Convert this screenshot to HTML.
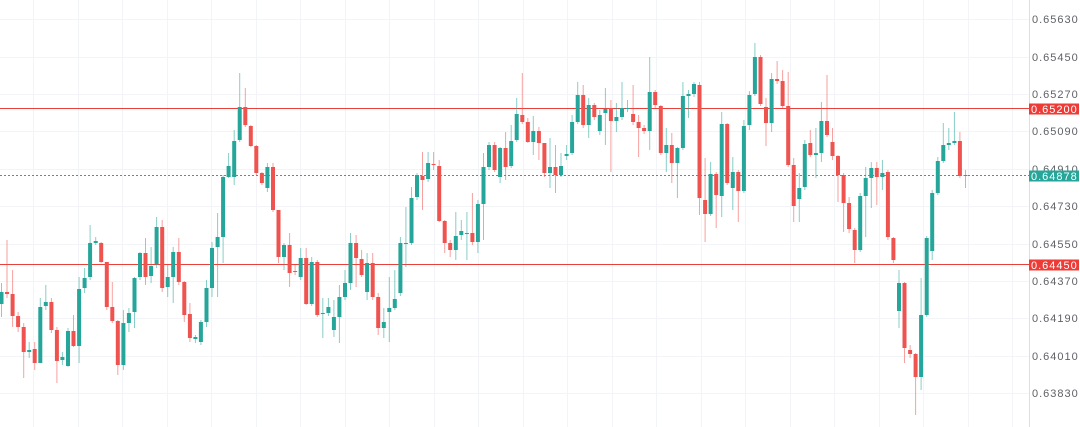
<!DOCTYPE html>
<html><head><meta charset="utf-8"><style>
html,body{margin:0;padding:0;background:#fff;}
svg{display:block;}
text{font-family:"Liberation Sans",sans-serif;font-size:11px;letter-spacing:1px;}
</style></head><body>
<svg width="1080" height="427" viewBox="0 0 1080 427" xmlns="http://www.w3.org/2000/svg">
<rect width="1080" height="427" fill="#fff"/>
<g stroke="#f3f4f7" stroke-width="1">
<path d="M0 19.5H1029M0 57.5H1029M0 94.5H1029M0 131.5H1029M0 169.5H1029M0 206.5H1029M0 244.5H1029M0 281.5H1029M0 318.5H1029M0 356.5H1029M0 393.5H1029"/>
<path d="M33.5 0V427M78.5 0V427M122.5 0V427M167.5 0V427M211.5 0V427M256.5 0V427M300.5 0V427M345.5 0V427M389.5 0V427M434.5 0V427M478.5 0V427M523.5 0V427M567.5 0V427M612.5 0V427M656.5 0V427M701.5 0V427M745.5 0V427M790.5 0V427M834.5 0V427M879.5 0V427M923.5 0V427M968.5 0V427M1012.5 0V427"/>
</g>
<line x1="1029.5" y1="0" x2="1029.5" y2="427" stroke="#dcdee3" stroke-width="1"/>
<line x1="0" y1="108.5" x2="1029" y2="108.5" stroke="#e8403b" stroke-width="1"/>
<line x1="0" y1="264.5" x2="1029" y2="264.5" stroke="#e8403b" stroke-width="1"/>
<line x1="0" y1="175.5" x2="1029" y2="175.5" stroke="#26a69a" stroke-width="1" stroke-dasharray="2 2"/>
<!-- wicks -->
<path fill="none" stroke="#26a69a" stroke-opacity="0.55" stroke-width="1" d="M1.5 283V317M29.2 342V358M40.3 298V363M45.8 285V310M62.4 352V365M68 328V367M79.1 277V363M84.6 268V293M90.1 225V280M95.7 237V245M123.4 310V370M128.9 308V332M134.5 277V328M140 252V280M151.1 247V283M156.6 217V268M167.7 265V297M173.2 247V303M195.4 335V343M200.9 320V345M206.5 280V327M212 242V297M217.6 213V297M223.1 175V263M228.6 153V178M234.2 130V185M239.7 73V142M267.4 163V192M284 243V270M300.7 248V280M311.7 257V306M322.8 298V338M328.4 298V316M333.9 300V337M339.4 285V343M345 270V300M350.5 233V290M367.1 253V300M383.8 308V338M389.3 277V342M394.8 270V310M400.4 237V296M405.9 207V267M411.5 187V245M417 173V200M428.1 152V182M455.8 212V260M461.3 220V240M466.9 212V260M477.9 200V253M483.5 153V240M489 142V170M500.1 147V183M511.2 125V168M516.7 98V142M533.3 116V155M550 138V188M561 153V177M566.6 145V160M572.1 115V155M577.7 82V124M588.7 98V138M599.8 110V135M605.4 88V145M616.4 103V132M622 82V120M627.5 100V112M649.7 57V150M666.3 128V172M677.4 147V198M682.9 82V150M688.5 90V118M694 82V97M710.6 162V216M721.7 112V217M732.8 157V210M743.9 120V193M749.4 91V130M754.9 43V96M771.6 73V132M799.3 173V222M804.8 140V190M815.9 128V178M821.4 102V162M860.2 193V252M865.7 167V237M871.3 162V208M882.4 160V190M899 270V328M921.1 278V390M926.7 236V317M932.2 190V260M937.8 157V195M943.3 123V163M948.8 128V150M954.4 112V145M965.5 170V188"/>
<path fill="none" stroke="#ef5350" stroke-opacity="0.55" stroke-width="1" d="M7 240V298M12.6 270V327M18.1 312V332M23.7 323V378M34.7 342V370M51.4 298V333M56.9 327V383M73.5 315V347M101.2 242V263M106.8 262V310M112.3 282V323M117.8 320V375M145.5 238V285M162.2 220V292M178.8 238V285M184.3 281V322M189.9 303V342M245.3 88V127M250.8 125V147M256.3 145V175M261.9 172V185M273 163V212M278.5 210V263M289.6 233V287M295.1 265V275M306.2 248V305M317.3 260V317M356.1 235V287M361.6 250V277M372.7 253V300M378.2 293V335M422.5 152V210M433.6 152V170M439.2 160V222M444.7 220V253M450.2 240V257M472.4 193V245M494.6 142V172M505.6 132V180M522.3 73V124M527.8 118V143M538.9 127V160M544.4 143V177M555.5 145V193M583.2 85V128M594.3 103V120M610.9 100V172M633.1 85V125M638.6 115V157M644.1 125V134M655.2 90V108M660.8 105V155M671.8 133V183M699.5 82V215M705.1 158V242M716.2 172V228M727.2 123V185M738.3 170V222M760.5 55V106M766 98V146M777.1 61V84M782.6 70V108M788.2 72V167M793.7 158V222M810.3 130V157M827 75V137M832.5 128V160M838 155V202M843.6 173V232M849.1 197V233M854.7 228V263M876.8 162V205M887.9 170V240M893.4 237V263M904.5 282V363M910.1 345V358M915.6 353V415M959.9 132V178"/>
<!-- green bodies -->
<g fill="#26a69a">
<rect x="-0.5" y="292" width="4" height="12"/><rect x="27.2" y="350" width="4" height="2"/><rect x="38.3" y="307" width="4" height="56"/><rect x="43.8" y="302" width="4" height="4"/><rect x="60.4" y="357" width="4" height="3"/><rect x="66" y="331" width="4" height="35"/><rect x="77.1" y="289" width="4" height="57"/><rect x="82.6" y="278" width="4" height="10"/><rect x="88.1" y="243" width="4" height="34"/><rect x="93.7" y="241" width="4" height="2"/><rect x="121.4" y="323" width="4" height="42"/><rect x="126.9" y="313" width="4" height="10"/><rect x="132.5" y="278" width="4" height="34"/><rect x="138" y="253" width="4" height="24"/><rect x="149.1" y="266" width="4" height="10"/><rect x="154.6" y="227" width="4" height="37"/><rect x="165.7" y="277" width="4" height="10"/><rect x="171.2" y="252" width="4" height="25"/><rect x="193.4" y="337" width="4" height="2"/><rect x="198.9" y="322" width="4" height="20"/><rect x="204.5" y="288" width="4" height="34"/><rect x="210" y="248" width="4" height="40"/><rect x="215.6" y="237" width="4" height="10"/><rect x="221.1" y="177" width="4" height="60"/><rect x="226.6" y="166" width="4" height="11"/><rect x="232.2" y="141" width="4" height="36"/><rect x="237.7" y="107" width="4" height="33"/><rect x="265.4" y="167" width="4" height="21"/><rect x="282" y="245" width="4" height="12"/><rect x="298.7" y="258" width="4" height="19"/><rect x="309.7" y="262" width="4" height="42"/><rect x="320.8" y="313" width="4" height="1"/><rect x="326.4" y="307" width="4" height="6"/><rect x="331.9" y="317" width="4" height="13"/><rect x="337.4" y="297" width="4" height="20"/><rect x="343" y="283" width="4" height="14"/><rect x="348.5" y="243" width="4" height="40"/><rect x="365.1" y="263" width="4" height="29"/><rect x="381.8" y="322" width="4" height="6"/><rect x="387.3" y="308" width="4" height="4"/><rect x="392.8" y="299" width="4" height="9"/><rect x="398.4" y="243" width="4" height="50"/><rect x="403.9" y="243" width="4" height="1"/><rect x="409.5" y="198" width="4" height="45"/><rect x="415" y="175" width="4" height="22"/><rect x="426.1" y="163" width="4" height="16"/><rect x="453.8" y="236" width="4" height="14"/><rect x="459.3" y="231" width="4" height="4"/><rect x="464.9" y="233" width="4" height="1"/><rect x="475.9" y="204" width="4" height="38"/><rect x="481.5" y="167" width="4" height="37"/><rect x="487" y="145" width="4" height="22"/><rect x="498.1" y="148" width="4" height="29"/><rect x="509.2" y="141" width="4" height="25"/><rect x="514.7" y="114" width="4" height="26"/><rect x="531.3" y="131" width="4" height="11"/><rect x="548" y="167" width="4" height="6"/><rect x="559" y="166" width="4" height="9"/><rect x="564.6" y="154" width="4" height="2"/><rect x="570.1" y="122" width="4" height="31"/><rect x="575.7" y="95" width="4" height="27"/><rect x="586.7" y="105" width="4" height="20"/><rect x="597.8" y="115" width="4" height="16"/><rect x="603.4" y="109" width="4" height="4"/><rect x="614.4" y="117" width="4" height="4"/><rect x="620" y="108" width="4" height="9"/><rect x="625.5" y="108" width="4" height="1"/><rect x="647.7" y="92" width="4" height="39"/><rect x="664.3" y="145" width="4" height="8"/><rect x="675.4" y="148" width="4" height="15"/><rect x="680.9" y="96" width="4" height="52"/><rect x="686.5" y="94" width="4" height="2"/><rect x="692" y="84" width="4" height="10"/><rect x="708.6" y="174" width="4" height="40"/><rect x="719.7" y="124" width="4" height="72"/><rect x="730.8" y="172" width="4" height="16"/><rect x="741.9" y="126" width="4" height="65"/><rect x="747.4" y="95" width="4" height="30"/><rect x="752.9" y="57" width="4" height="37"/><rect x="769.6" y="79" width="4" height="44"/><rect x="797.3" y="188" width="4" height="11"/><rect x="802.8" y="144" width="4" height="43"/><rect x="813.9" y="153" width="4" height="2"/><rect x="819.4" y="121" width="4" height="32"/><rect x="858.2" y="196" width="4" height="54"/><rect x="863.7" y="178" width="4" height="18"/><rect x="869.3" y="168" width="4" height="10"/><rect x="880.4" y="173" width="4" height="4"/><rect x="897" y="283" width="4" height="28"/><rect x="919.1" y="315" width="4" height="62"/><rect x="924.7" y="238" width="4" height="77"/><rect x="930.2" y="193" width="4" height="58"/><rect x="935.8" y="161" width="4" height="32"/><rect x="941.3" y="145" width="4" height="16"/><rect x="946.8" y="143" width="4" height="2"/><rect x="952.4" y="141" width="4" height="2"/><rect x="963.5" y="175" width="4" height="1"/>
</g>
<!-- red bodies -->
<g fill="#ef5350">
<rect x="5" y="292" width="4" height="2"/><rect x="10.6" y="294" width="4" height="22"/><rect x="16.1" y="316" width="4" height="11"/><rect x="21.7" y="327" width="4" height="25"/><rect x="32.7" y="349" width="4" height="14"/><rect x="49.4" y="302" width="4" height="28"/><rect x="54.9" y="330" width="4" height="31"/><rect x="71.5" y="331" width="4" height="15"/><rect x="99.2" y="243" width="4" height="19"/><rect x="104.8" y="262" width="4" height="45"/><rect x="110.3" y="307" width="4" height="14"/><rect x="115.8" y="321" width="4" height="44"/><rect x="143.5" y="253" width="4" height="24"/><rect x="160.2" y="227" width="4" height="61"/><rect x="176.8" y="252" width="4" height="30"/><rect x="182.3" y="282" width="4" height="33"/><rect x="187.9" y="314" width="4" height="24"/><rect x="243.3" y="107" width="4" height="18"/><rect x="248.8" y="126" width="4" height="20"/><rect x="254.3" y="146" width="4" height="27"/><rect x="259.9" y="173" width="4" height="10"/><rect x="271" y="167" width="4" height="43"/><rect x="276.5" y="210" width="4" height="47"/><rect x="287.6" y="245" width="4" height="28"/><rect x="293.1" y="271" width="4" height="1"/><rect x="304.2" y="258" width="4" height="46"/><rect x="315.3" y="262" width="4" height="53"/><rect x="354.1" y="243" width="4" height="15"/><rect x="359.6" y="259" width="4" height="16"/><rect x="370.7" y="263" width="4" height="34"/><rect x="376.2" y="297" width="4" height="31"/><rect x="420.5" y="176" width="4" height="4"/><rect x="431.6" y="164" width="4" height="1"/><rect x="437.2" y="166" width="4" height="55"/><rect x="442.7" y="221" width="4" height="22"/><rect x="448.2" y="243" width="4" height="7"/><rect x="470.4" y="233" width="4" height="9"/><rect x="492.6" y="145" width="4" height="25"/><rect x="503.6" y="148" width="4" height="19"/><rect x="520.3" y="115" width="4" height="7"/><rect x="525.8" y="122" width="4" height="20"/><rect x="536.9" y="131" width="4" height="12"/><rect x="542.4" y="143" width="4" height="30"/><rect x="553.5" y="167" width="4" height="8"/><rect x="581.2" y="95" width="4" height="30"/><rect x="592.3" y="105" width="4" height="12"/><rect x="608.9" y="108" width="4" height="13"/><rect x="631.1" y="114" width="4" height="8"/><rect x="636.6" y="122" width="4" height="6"/><rect x="642.1" y="128" width="4" height="3"/><rect x="653.2" y="92" width="4" height="13"/><rect x="658.8" y="106" width="4" height="47"/><rect x="669.8" y="145" width="4" height="18"/><rect x="697.5" y="85" width="4" height="113"/><rect x="703.1" y="200" width="4" height="14"/><rect x="714.2" y="174" width="4" height="21"/><rect x="725.2" y="124" width="4" height="59"/><rect x="736.3" y="172" width="4" height="19"/><rect x="758.5" y="57" width="4" height="47"/><rect x="764" y="107" width="4" height="16"/><rect x="775.1" y="79" width="4" height="2"/><rect x="780.6" y="81" width="4" height="25"/><rect x="786.2" y="106" width="4" height="59"/><rect x="791.7" y="165" width="4" height="41"/><rect x="808.3" y="143" width="4" height="12"/><rect x="825" y="121" width="4" height="14"/><rect x="830.5" y="142" width="4" height="14"/><rect x="836" y="156" width="4" height="19"/><rect x="841.6" y="175" width="4" height="28"/><rect x="847.1" y="203" width="4" height="26"/><rect x="852.7" y="230" width="4" height="20"/><rect x="874.8" y="168" width="4" height="9"/><rect x="885.9" y="172" width="4" height="65"/><rect x="891.4" y="238" width="4" height="22"/><rect x="902.5" y="283" width="4" height="65"/><rect x="908.1" y="350" width="4" height="4"/><rect x="913.6" y="354" width="4" height="23"/><rect x="957.9" y="141" width="4" height="35"/>
</g>
<!-- axis labels -->
<g fill="#5f6167">
<text x="1032" y="23">0.65630</text>
<text x="1032" y="61">0.65450</text>
<text x="1032" y="98">0.65270</text>
<text x="1032" y="135">0.65090</text>
<text x="1032" y="173">0.64910</text>
<text x="1032" y="210">0.64730</text>
<text x="1032" y="248">0.64550</text>
<text x="1032" y="285">0.64370</text>
<text x="1032" y="322">0.64190</text>
<text x="1032" y="360">0.64010</text>
<text x="1032" y="397">0.63830</text>
</g>
<rect x="1029" y="103.5" width="50" height="11" fill="#ee3b36"/>
<text x="1031" y="113" fill="#fff">0.65200</text>
<rect x="1029" y="170.5" width="50" height="11" fill="#26a69a"/>
<text x="1031" y="180" fill="#fff">0.64878</text>
<rect x="1029" y="259.5" width="50" height="11" fill="#ee3b36"/>
<text x="1031" y="269" fill="#fff">0.64450</text>
</svg>
</body></html>
